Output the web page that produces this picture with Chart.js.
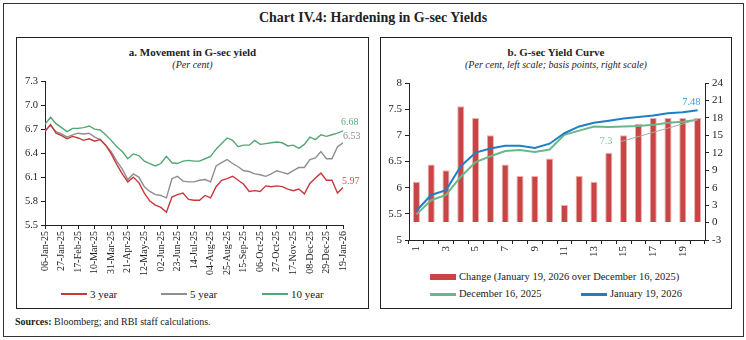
<!DOCTYPE html>
<html lang="en">
<head>
<meta charset="UTF-8">
<title>Chart IV.4: Hardening in G-sec Yields</title>
<script src="https://cdn.jsdelivr.net/npm/chart.js"></script>
<style>
  * { box-sizing: border-box; }
  body { margin: 0; background: #fff; font-family: 'Liberation Serif', 'DejaVu Serif', serif; color: #222; }
  #page { position: relative; width: 746px; height: 340px; overflow: hidden; }
  .frame { position: absolute; left: 3px; top: 3px; width: 741px; height: 334px; border: 1px solid #333; }
  .panel { position: absolute; top: 37px; height: 272px; border: 1px solid #222; }
  .title { position: absolute; left: 0; width: 746px; top: 9px; text-align: center; font-size: 14px; font-weight: bold; line-height: 18px; }
  .ptitle { position: absolute; text-align: center; font-size: 11px; font-weight: bold; line-height: 13px; }
  .psub { position: absolute; text-align: center; font-size: 10px; font-style: italic; line-height: 12px; }
  canvas { position: absolute; }
  .leg { position: absolute; display: flex; align-items: center; font-size: 11px; line-height: 12px; white-space: nowrap; }
  .leg i { display: inline-block; width: 26px; margin-right: 3px; }
  .src { position: absolute; left: 15px; top: 315px; font-size: 10px; line-height: 13px; }
</style>
</head>
<body>
<div id="page">
  <div class="frame"></div>
  <div class="title">Chart IV.4: Hardening in G-sec Yields</div>

  <div class="panel" style="left:16px; width:353px;"></div>
  <div class="ptitle" style="left:16px; width:353px; top:46px;">a. Movement in G-sec yield</div>
  <div class="psub" style="left:16px; width:353px; top:59px;">(Per cent)</div>
  <canvas id="movement" width="351" height="215" style="left:17px; top:72px;"></canvas>
  <div class="leg" style="left:61px; top:288px;"><i style="height:2px; background:#C8383A;"></i>3 year</div>
  <div class="leg" style="left:161px; top:288px;"><i style="height:2px; background:#8E8E8E;"></i>5 year</div>
  <div class="leg" style="left:262px; top:288px;"><i style="height:2px; background:#52A874;"></i>10 year</div>

  <div class="panel" style="left:380px; width:352px;"></div>
  <div class="ptitle" style="left:380px; width:352px; top:46px;">b. G-sec Yield Curve</div>
  <div class="psub" style="left:380px; width:352px; top:59px;">(Per cent, left scale; basis points, right scale)</div>
  <canvas id="curve" width="350" height="190" style="left:381px; top:72px;"></canvas>
  <div class="leg" style="left:430px; top:271px; font-size:10.5px;"><i style="height:6px; background:#C94444;"></i>Change (January 19, 2026 over December 16, 2025)</div>
  <div class="leg" style="left:430px; top:288px; font-size:10.5px;"><i style="height:3px; background:#67B98A;"></i>December 16, 2025</div>
  <div class="leg" style="left:581px; top:288px; font-size:10.5px;"><i style="height:3px; background:#1F7FC6;"></i>January 19, 2026</div>

  <div class="src"><b>Sources:</b> Bloomberg; and RBI staff calculations.</div>
</div>

<script>
// ---- panel a: weekly closing yields, 06-Jan-25 to 19-Jan-26 (per cent) ----
const dateTicks = ['06-Jan-25', '27-Jan-25', '17-Feb-25', '10-Mar-25', '31-Mar-25', '21-Apr-25',
  '12-May-25', '02-Jun-25', '23-Jun-25', '14-Jul-25', '04-Aug-25', '25-Aug-25', '15-Sep-25',
  '06-Oct-25', '27-Oct-25', '17-Nov-25', '08-Dec-25', '29-Dec-25', '19-Jan-26'];

const yield3y = [
  6.67, 6.76, 6.65, 6.62, 6.58, 6.61, 6.59, 6.56, 6.58, 6.55,
  6.57, 6.50, 6.39, 6.26, 6.14, 6.04, 6.10, 6.03, 5.90, 5.80,
  5.75, 5.72, 5.66, 5.85, 5.88, 5.90, 5.82, 5.81, 5.81, 5.87,
  5.84, 5.98, 6.06, 6.08, 6.11, 6.06, 6.01, 5.92, 5.93, 5.92,
  5.99, 5.98, 5.99, 5.98, 5.95, 5.93, 5.95, 5.89, 6.02, 6.09,
  6.15, 6.06, 6.06, 5.90, 5.97];
const yield5y = [
  6.68, 6.75, 6.67, 6.64, 6.60, 6.63, 6.65, 6.64, 6.65, 6.60,
  6.57, 6.50, 6.42, 6.30, 6.20, 6.07, 6.14, 6.10, 5.98, 5.92,
  5.88, 5.87, 5.84, 6.08, 6.11, 6.05, 6.04, 6.04, 6.06, 6.07,
  6.04, 6.24, 6.28, 6.32, 6.27, 6.23, 6.18, 6.17, 6.14, 6.13,
  6.11, 6.14, 6.18, 6.16, 6.14, 6.18, 6.22, 6.22, 6.32, 6.34,
  6.42, 6.33, 6.33, 6.48, 6.53];
const yield10y = [
  6.76, 6.85, 6.77, 6.72, 6.67, 6.71, 6.71, 6.72, 6.74, 6.70,
  6.69, 6.63, 6.56, 6.48, 6.42, 6.33, 6.39, 6.37, 6.30, 6.27,
  6.24, 6.27, 6.36, 6.28, 6.27, 6.30, 6.31, 6.30, 6.30, 6.33,
  6.36, 6.45, 6.52, 6.59, 6.56, 6.48, 6.50, 6.50, 6.56, 6.51,
  6.52, 6.53, 6.54, 6.53, 6.49, 6.50, 6.46, 6.51, 6.60, 6.57,
  6.63, 6.61, 6.63, 6.65, 6.68];

// ---- panel b: yield curve by residual maturity (years) ----
const tenors = ['1', '2', '3', '4', '5', '6', '7', '8', '9', '10',
  '11', '12', '13', '14', '15', '16', '17', '18', '19', '20'];
const curveDec16 = [5.49, 5.76, 5.86, 6.21, 6.49, 6.60, 6.70, 6.72, 6.68, 6.73,
  7.01, 7.09, 7.17, 7.16, 7.17, 7.18, 7.20, 7.24, 7.26, 7.30];
const curveJan19 = [5.56, 5.86, 5.95, 6.41, 6.67, 6.75, 6.80, 6.80, 6.76, 6.84,
  7.04, 7.17, 7.24, 7.28, 7.32, 7.35, 7.38, 7.42, 7.44, 7.48];
const changeBp = [7, 10, 9, 20, 18, 15, 10, 8, 8, 11, 3, 8, 7, 12, 15, 17, 18, 18, 18, 18];

const INK = '#222';
const serif = 'Liberation Serif';

// value tag at the last point of a dataset (optionally with a leader line)
const endLabels = {
  id: 'endLabels',
  afterDatasetsDraw(chart) {
    const ctx = chart.ctx;
    chart.data.datasets.forEach((ds, i) => {
      const tag = ds.endLabel;
      if (!tag) return;
      const pts = chart.getDatasetMeta(i).data;
      const pt = pts[pts.length - 1];
      const last = ds.data[ds.data.length - 1];
      const value = typeof last === 'object' ? last.y : last;
      const tx = pt.x + tag.dx, ty = pt.y + tag.dy;
      ctx.save();
      if (tag.leader) {
        ctx.strokeStyle = '#aaa';
        ctx.lineWidth = 1;
        ctx.beginPath();
        ctx.moveTo(tx + tag.leader, ty);
        ctx.lineTo(pt.x, pt.y);
        ctx.stroke();
      }
      ctx.font = `${tag.size || 10}px "${serif}"`;
      ctx.fillStyle = tag.color;
      ctx.textAlign = tag.align || 'left';
      ctx.textBaseline = 'middle';
      ctx.fillText(String(value), tx, ty);
      ctx.restore();
    });
  }
};

const tickMarks = { drawOnChartArea: false, drawTicks: true, tickLength: 4, color: INK };
const asPoints = arr => arr.map((v, i) => ({ x: i, y: v }));

new Chart(document.getElementById('movement'), {
  type: 'line',
  data: {
    datasets: [
      { label: '3 year', data: asPoints(yield3y), borderColor: '#C8383A', borderWidth: 1.4,
        pointRadius: 0, endLabel: { color: '#D25656', dx: -1, dy: -6 } },
      { label: '5 year', data: asPoints(yield5y), borderColor: '#8E8E8E', borderWidth: 1.4,
        pointRadius: 0, endLabel: { color: '#8E8E8E', dx: 0, dy: -6 } },
      { label: '10 year', data: asPoints(yield10y), borderColor: '#52A874', borderWidth: 1.4,
        pointRadius: 0, endLabel: { color: '#5DB07F', dx: -2, dy: -8 } }
    ]
  },
  options: {
    responsive: false,
    animation: false,
    layout: { padding: { top: 7, right: 25, left: 0, bottom: 0 } },
    plugins: { legend: { display: false }, tooltip: { enabled: false } },
    scales: {
      x: {
        type: 'linear', min: 0, max: 54,
        grid: tickMarks,
        border: { color: INK },
        ticks: {
          stepSize: 3, autoSkip: false, minRotation: 90, maxRotation: 90, padding: 2,
          color: INK, font: { family: serif, size: 10 },
          callback: v => dateTicks[Math.round(v / 3)]
        },
        afterFit(s) { s.height = 62; }
      },
      y: {
        min: 5.5, max: 7.3,
        grid: tickMarks,
        border: { color: INK },
        ticks: { stepSize: 0.3, padding: 3, color: INK, font: { family: serif, size: 10.5 },
          callback: v => v.toFixed(1) },
        afterFit(s) { s.width = 28; }
      }
    }
  },
  plugins: [endLabels]
});

new Chart(document.getElementById('curve'), {
  type: 'bar',
  data: {
    labels: tenors,
    datasets: [
      { type: 'line', label: 'January 19, 2026', data: curveJan19, yAxisID: 'y',
        borderColor: '#1F7FC6', borderWidth: 2, pointRadius: 0, order: 0,
        endLabel: { color: '#3E9BD8', dx: 3, dy: -8, align: 'right', size: 10.5 } },
      { type: 'line', label: 'December 16, 2025', data: curveDec16, yAxisID: 'y',
        borderColor: '#67B98A', borderWidth: 2, pointRadius: 0, order: 1,
        endLabel: { color: '#8CC7A2', dx: -85, dy: 22, align: 'right', size: 10.5, leader: 8 } },
      { type: 'bar', label: 'Change (January 19, 2026 over December 16, 2025)', data: changeBp,
        yAxisID: 'y1', backgroundColor: '#C94444', borderColor: '#EBB0B0', borderWidth: 1,
        barPercentage: 0.48, categoryPercentage: 1, order: 2 }
    ]
  },
  options: {
    responsive: false,
    animation: false,
    layout: { padding: { top: 11, right: 0, left: 0, bottom: 0 } },
    plugins: { legend: { display: false }, tooltip: { enabled: false } },
    scales: {
      x: {
        type: 'category', offset: true,
        grid: { ...tickMarks, offset: true },
        border: { color: INK },
        ticks: { autoSkip: false, minRotation: 90, maxRotation: 90, padding: 2,
          color: INK, font: { family: serif, size: 11 },
          callback: (v, i) => (i % 2 === 0 ? tenors[i] : '') },
        afterFit(s) { s.height = 22; }
      },
      y: {
        position: 'left', min: 5, max: 8,
        grid: tickMarks,
        border: { color: INK },
        ticks: { stepSize: 0.5, padding: 3, color: INK, font: { family: serif, size: 11 },
          callback: v => String(v) },
        afterFit(s) { s.width = 28; }
      },
      y1: {
        position: 'right', min: -3, max: 24,
        grid: tickMarks,
        border: { color: INK },
        ticks: { stepSize: 3, padding: 3, color: INK, font: { family: serif, size: 11 } },
        afterFit(s) { s.width = 26; }
      }
    }
  },
  plugins: [endLabels]
});
</script>
</body>
</html>
